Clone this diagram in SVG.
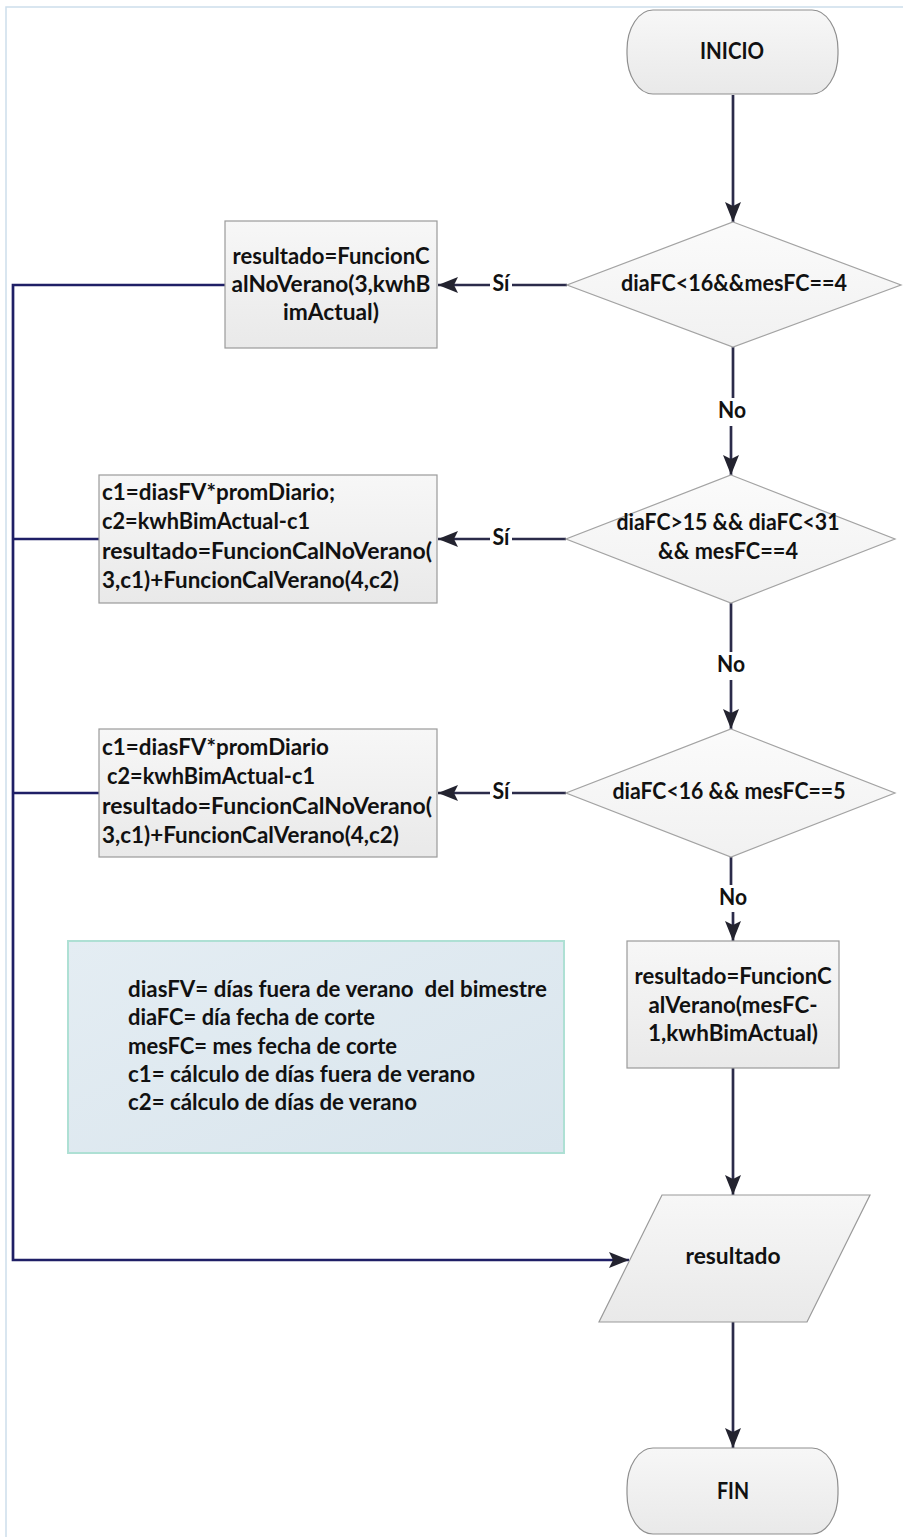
<svg xmlns="http://www.w3.org/2000/svg" width="903" height="1537" viewBox="0 0 903 1537">
<defs>
<linearGradient id="gBox" x1="0" y1="0" x2="0" y2="1"><stop offset="0" stop-color="#f7f7f7"/><stop offset="1" stop-color="#e9e9e9"/></linearGradient>
<linearGradient id="gDia" x1="0" y1="0" x2="0" y2="1"><stop offset="0" stop-color="#fbfbfb"/><stop offset="1" stop-color="#f1f1f1"/></linearGradient>
<linearGradient id="gLeg" x1="0" y1="0" x2="1" y2="1"><stop offset="0" stop-color="#e4edf3"/><stop offset="1" stop-color="#d9e5ed"/></linearGradient>
<marker id="ah" viewBox="0 0 20 16" refX="20" refY="8" markerWidth="20" markerHeight="16" markerUnits="userSpaceOnUse" orient="auto"><path d="M0,0 L20,8 L0,16 L4,8 z" fill="#23232f"/></marker>
</defs>
<style>
.t{font-family:Lato,'Open Sans','Liberation Sans',sans-serif;font-weight:700;font-size:22px;fill:#111111}
.m{text-anchor:middle}
.box{fill:url(#gBox);stroke:#9a9a9a;stroke-width:1.2}
.dia{fill:url(#gDia);stroke:#a3a3a3;stroke-width:1.2}
.term{fill:url(#gBox);stroke:#8f8f8f;stroke-width:1.2}
.c{fill:none;stroke:#2b2b4a;stroke-width:2.7}
.cl{fill:none;stroke:#1f1f66;stroke-width:2.7}
</style>
<rect x="0" y="0" width="903" height="1537" fill="#ffffff"/>
<rect x="6" y="7" width="905" height="1545" fill="none" stroke="#cddeec" stroke-width="1.5"/>

<g id="connectors">
<path class="c" d="M733,95 V222" marker-end="url(#ah)"/>
<path class="c" d="M567,285 H512"/>
<path class="c" d="M490,285 H438" marker-end="url(#ah)"/>
<path class="c" d="M733,347 V398"/>
<path class="c" d="M731,426 V475" marker-end="url(#ah)"/>
<path class="c" d="M566,539 H512"/>
<path class="c" d="M490,539 H438" marker-end="url(#ah)"/>
<path class="c" d="M731,603 V652"/>
<path class="c" d="M731,680 V729" marker-end="url(#ah)"/>
<path class="c" d="M566,793 H512"/>
<path class="c" d="M490,793 H438" marker-end="url(#ah)"/>
<path class="c" d="M731,857 V885"/>
<path class="c" d="M733,912 V941" marker-end="url(#ah)"/>
<path class="c" d="M733,1068 V1195" marker-end="url(#ah)"/>
<path class="c" d="M733,1322 V1448" marker-end="url(#ah)"/>
<path class="cl" d="M225,285 H13 V1260 H629" marker-end="url(#ah)"/>
<path class="cl" d="M99,539 H13"/>
<path class="cl" d="M99,793 H13"/>
<text class="t m" x="501" y="291" textLength="17" lengthAdjust="spacingAndGlyphs">Sí</text>
<text class="t m" x="501" y="545" textLength="17" lengthAdjust="spacingAndGlyphs">Sí</text>
<text class="t m" x="501" y="799" textLength="17" lengthAdjust="spacingAndGlyphs">Sí</text>
<text class="t m" x="732" y="418" textLength="28" lengthAdjust="spacingAndGlyphs">No</text>
<text class="t m" x="731" y="672" textLength="28" lengthAdjust="spacingAndGlyphs">No</text>
<text class="t m" x="733" y="905" textLength="28" lengthAdjust="spacingAndGlyphs">No</text>
</g>

<g id="inicio">
<rect class="term" x="627" y="10" width="211" height="84" rx="26" ry="40"/>
<text class="t m" x="732" y="59" textLength="64" lengthAdjust="spacingAndGlyphs">INICIO</text>
</g>

<g id="dec1">
<polygon class="dia" points="733,222 901,285 733,347 567,285"/>
<text class="t m" x="734" y="291" textLength="226" lengthAdjust="spacingAndGlyphs">diaFC&lt;16&amp;&amp;mesFC==4</text>
</g>

<g id="proc1">
<rect class="box" x="225" y="221" width="212" height="127"/>
<text class="t m" x="331" y="264" textLength="197" lengthAdjust="spacingAndGlyphs">resultado=FuncionC</text>
<text class="t m" x="331" y="292" textLength="199" lengthAdjust="spacingAndGlyphs">alNoVerano(3,kwhB</text>
<text class="t m" x="331" y="320" textLength="96" lengthAdjust="spacingAndGlyphs">imActual)</text>
</g>

<g id="dec2">
<polygon class="dia" points="731,475 895,539 731,603 566,539"/>
<text class="t m" x="728" y="530" textLength="223" lengthAdjust="spacingAndGlyphs">diaFC&gt;15 &amp;&amp; diaFC&lt;31</text>
<text class="t m" x="728" y="559" textLength="140" lengthAdjust="spacingAndGlyphs">&amp;&amp; mesFC==4</text>
</g>

<g id="proc2">
<rect class="box" x="99" y="475" width="338" height="128"/>
<text class="t" x="102" y="500" textLength="233" lengthAdjust="spacingAndGlyphs">c1=diasFV*promDiario;</text>
<text class="t" x="102" y="529" textLength="208" lengthAdjust="spacingAndGlyphs">c2=kwhBimActual-c1</text>
<text class="t" x="102" y="559" textLength="330" lengthAdjust="spacingAndGlyphs">resultado=FuncionCalNoVerano(</text>
<text class="t" x="102" y="588" textLength="297" lengthAdjust="spacingAndGlyphs">3,c1)+FuncionCalVerano(4,c2)</text>
</g>

<g id="dec3">
<polygon class="dia" points="731,729 895,793 731,857 566,793"/>
<text class="t m" x="729" y="799" textLength="233" lengthAdjust="spacingAndGlyphs">diaFC&lt;16 &amp;&amp; mesFC==5</text>
</g>

<g id="proc3">
<rect class="box" x="99" y="729" width="338" height="128"/>
<text class="t" x="102" y="755" textLength="227" lengthAdjust="spacingAndGlyphs">c1=diasFV*promDiario</text>
<text class="t" x="107" y="784" textLength="208" lengthAdjust="spacingAndGlyphs">c2=kwhBimActual-c1</text>
<text class="t" x="102" y="814" textLength="330" lengthAdjust="spacingAndGlyphs">resultado=FuncionCalNoVerano(</text>
<text class="t" x="102" y="843" textLength="297" lengthAdjust="spacingAndGlyphs">3,c1)+FuncionCalVerano(4,c2)</text>
</g>

<g id="proc4">
<rect class="box" x="627" y="941" width="212" height="127"/>
<text class="t m" x="733" y="984" textLength="197" lengthAdjust="spacingAndGlyphs">resultado=FuncionC</text>
<text class="t m" x="733" y="1013" textLength="169" lengthAdjust="spacingAndGlyphs">alVerano(mesFC-</text>
<text class="t m" x="733" y="1041" textLength="170" lengthAdjust="spacingAndGlyphs">1,kwhBimActual)</text>
</g>

<g id="legend">
<rect x="68" y="941" width="496" height="212" fill="url(#gLeg)" stroke="#aee0d4" stroke-width="2"/>
<text class="t" x="128" y="997" textLength="419" lengthAdjust="spacingAndGlyphs" style="white-space:pre">diasFV= días fuera de verano  del bimestre</text>
<text class="t" x="128" y="1025" textLength="247" lengthAdjust="spacingAndGlyphs">diaFC= día fecha de corte</text>
<text class="t" x="128" y="1054" textLength="269" lengthAdjust="spacingAndGlyphs">mesFC= mes fecha de corte</text>
<text class="t" x="128" y="1082" textLength="347" lengthAdjust="spacingAndGlyphs">c1= cálculo de días fuera de verano</text>
<text class="t" x="128" y="1110" textLength="289" lengthAdjust="spacingAndGlyphs">c2= cálculo de días de verano</text>
</g>

<g id="output">
<polygon class="box" points="662,1195 870,1195 807,1322 599,1322"/>
<text class="t m" x="733" y="1264" textLength="95" lengthAdjust="spacingAndGlyphs">resultado</text>
</g>

<g id="fin">
<rect class="term" x="627" y="1448" width="211" height="86" rx="26" ry="40"/>
<text class="t m" x="733" y="1499" textLength="32" lengthAdjust="spacingAndGlyphs">FIN</text>
</g>
</svg>
